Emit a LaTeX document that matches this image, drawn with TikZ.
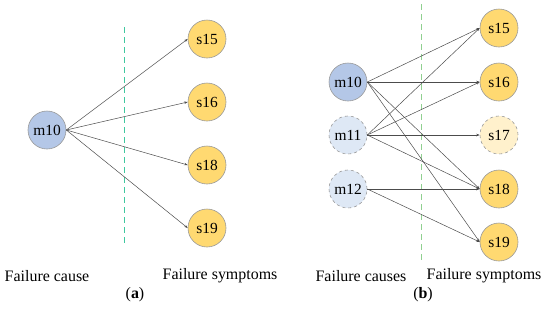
\documentclass[tikz,border=0pt]{standalone}
\usepackage{fontspec}
\setmainfont{Liberation Serif}
\usetikzlibrary{arrows.meta}
\definecolor{cblue}{HTML}{B4C7E7}
\definecolor{clblue}{HTML}{DEE8F5}
\definecolor{cyel}{HTML}{FFD971}
\definecolor{clyel}{HTML}{FFF1CC}
\definecolor{cborder}{HTML}{9A9A9A}
\definecolor{cgreenA}{HTML}{40C8A0}
\definecolor{cgreenB}{HTML}{90D090}
\tikzset{
  cnode/.style={circle, minimum size=38bp, inner sep=0pt, draw=cborder, line width=0.6bp, font=\fontsize{15.5}{15.5}\selectfont},
  cause/.style={cnode, fill=cblue},
  lcause/.style={cnode, fill=clblue, dashed},
  sym/.style={cnode, fill=cyel},
  lsym/.style={cnode, fill=clyel, dashed},
  edge/.style={draw=black!70, line width=0.5bp, -{Stealth[length=3.5bp,width=2.5bp]}},
  lbl/.style={font=\fontsize{16}{16}\selectfont},
}
\begin{document}
\begin{tikzpicture}[x=1bp,y=-1bp]
\useasboundingbox (0,0) rectangle (550,309);
% panel a
\node[cause] (am10) at (47,130) {m10};
\node[sym] (as15) at (207,39) {s15};
\node[sym] (as16) at (207,102) {s16};
\node[sym] (as18) at (207,165) {s18};
\node[sym] (as19) at (207,228) {s19};
\coordinate (adt) at (124,27);
\coordinate (adb) at (124,243);
\draw[cgreenA, dash pattern=on 6bp off 4bp, line width=0.7bp] (adt) -- (adb);
\foreach \t in {as15,as16,as18,as19}{\draw[edge] (am10.east) -- (\t.west);}
\node[lbl] (acause) at (47,276) {Failure cause};
\node[lbl] (asym) at (220,276) {Failure symptoms};
\node[lbl] (acap) at (135,295) {(\textbf{a})};
% panel b
\node[cause] (bm10) at (348,82) {m10};
\node[lcause] (bm11) at (348,135) {m11};
\node[lcause] (bm12) at (348,189) {m12};
\node[sym] (bs15) at (499,28) {s15};
\node[sym] (bs16) at (499,82) {s16};
\node[lsym] (bs17) at (499,135) {s17};
\node[sym] (bs18) at (499,189) {s18};
\node[sym] (bs19) at (499,242) {s19};
\coordinate (bdt) at (421,4);
\coordinate (bdb) at (421,263);
\draw[cgreenB, dash pattern=on 6bp off 4bp, line width=0.6bp] (bdt) -- (bdb);
\foreach \s/\t in {bm10/bs15,bm10/bs16,bm10/bs18,bm10/bs19,bm11/bs15,bm11/bs16,bm11/bs17,bm11/bs18,bm12/bs18,bm12/bs19}{\draw[edge] (\s.east) -- (\t.west);}
\node[lbl] (bcause) at (361,276) {Failure causes};
\node[lbl] (bsym) at (484,276) {Failure symptoms};
\node[lbl] (bcap) at (423,295) {(\textbf{b})};
\end{tikzpicture}
\end{document}
